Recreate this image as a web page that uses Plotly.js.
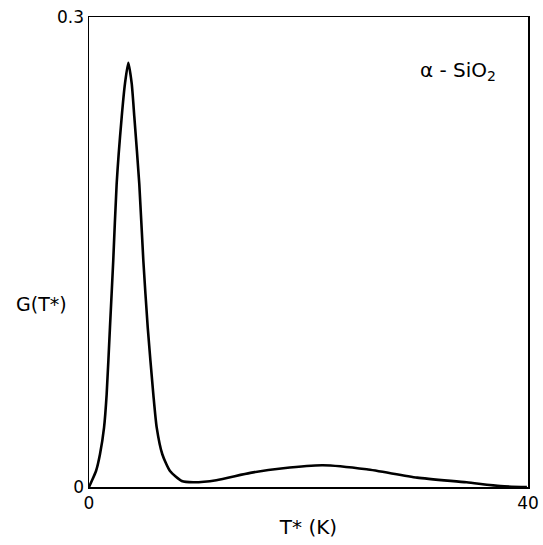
<!DOCTYPE html>
<html><head><meta charset="utf-8">
<script src="https://cdn.plot.ly/plotly-3.0.1.min.js"></script>
<style>html,body{margin:0;padding:0;background:#fff}#c{width:543px;height:545px}</style>
</head><body><div id="c"></div>
<script>
var temps = [0, 0.25, 0.64, 1.00, 1.37, 1.61, 1.91, 2.21, 2.52, 2.98, 3.28, 3.58, 3.89, 4.13, 4.58, 4.95, 5.35, 5.86, 6.17, 6.68, 7.38, 8.45, 9.5, 11.6, 14.7, 17.7, 21.3, 25.3, 29.9, 34.4, 37.5, 39.9];
var gValues = [0, 0.0038, 0.0102, 0.0209, 0.0379, 0.0593, 0.1019, 0.1446, 0.1936, 0.2362, 0.2576, 0.2708, 0.2576, 0.2362, 0.1936, 0.1446, 0.1019, 0.0593, 0.0379, 0.0209, 0.0102, 0.0038, 0.003, 0.0043, 0.009, 0.012, 0.0139, 0.0113, 0.006, 0.003, 0.0006, 0];
var xTickVals = [0, 40];
var xTickText = ["0", "40"];
var yTickVals = [0, 0.3];
var yTickText = ["0", "0.3"];

var fontFam = "DejaVu Sans, Liberation Sans, sans-serif";
var trace = {x: temps, y: gValues, type: "scatter", mode: "lines",
  line: {color: "#000", width: 2.6, shape: "spline", smoothing: 0.6}, hoverinfo: "none"};
var layout = {
  width: 543, height: 545,
  margin: {l: 89, r: 15, t: 17, b: 58},
  paper_bgcolor: "#fff", plot_bgcolor: "#fff",
  showlegend: false,
  font: {family: fontFam, color: "#000", size: 17},
  xaxis: {range: [0, 40], tickvals: xTickVals, ticktext: xTickText, showgrid: false, zeroline: false,
    showline: true, mirror: true, linecolor: "#000", linewidth: 1.5, ticks: "", ticklen: 0,
    tickfont: {size: 17}, title: {text: "T* (K)", font: {size: 20}, standoff: 8}},
  yaxis: {range: [0, 0.3], tickvals: yTickVals, ticktext: yTickText, showgrid: false, zeroline: false,
    showline: true, mirror: true, linecolor: "#000", linewidth: 1.5, ticks: "", ticklen: 0,
    tickfont: {size: 17}},
  annotations: [
    {xref: "paper", yref: "paper", x: -0.17, y: 0.39, xanchor: "left", yanchor: "middle",
     text: "G(T*)", showarrow: false, font: {size: 19}},
    {xref: "paper", yref: "paper", x: 0.84, y: 0.885, xanchor: "center", yanchor: "middle",
     text: "α - SiO<sub>2</sub>", showarrow: false, font: {size: 20}}
  ]
};
Plotly.newPlot("c", [trace], layout, {staticPlot: true, displayModeBar: false});
</script></body></html>
